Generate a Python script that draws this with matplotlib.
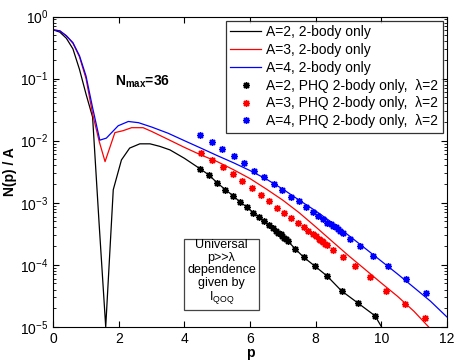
import numpy as np
import matplotlib
matplotlib.use("Agg")
import matplotlib.pyplot as plt
from matplotlib.ticker import LogLocator, NullFormatter

plt.rcParams['font.family'] = ['Liberation Sans', 'DejaVu Sans']
plt.rcParams['mathtext.fontset'] = 'custom'
plt.rcParams['mathtext.rm'] = 'Liberation Sans'
plt.rcParams['mathtext.bf'] = 'Liberation Sans:bold'

# full calculation, 2-body only
p_a2 = [0, 0.2, 0.4, 0.6, 0.8, 1.0, 1.2, 1.4, 1.6, 1.83, 2.08, 2.33, 2.64, 2.95, 3.25, 3.56, 4.0,
        4.47, 4.74, 5.0, 5.25, 5.49, 5.70, 5.91, 6.10, 6.27, 6.42, 6.57, 6.69, 6.79, 6.86, 6.93,
        6.99, 7.04, 7.09, 7.16, 7.37, 7.64, 7.98, 8.35, 8.79, 9.30, 9.81, 10.01, 10.2]
n_a2 = [0.61, 0.562, 0.447, 0.302, 0.141, 0.0562, 0.024, 4.5e-4, 1.0e-5, 1.62e-3, 4.9e-3, 7.6e-3,
        8.9e-3, 8.9e-3, 8.1e-3, 7.1e-3, 5.2e-3,
        3.55e-3, 2.82e-3, 2.09e-3, 1.62e-3, 1.29e-3, 1.02e-3, 8.5e-4, 6.9e-4, 5.9e-4, 5.0e-4,
        4.4e-4, 3.9e-4, 3.55e-4, 3.3e-4, 3.1e-4, 2.9e-4, 2.75e-4, 2.57e-4, 2.4e-4, 1.82e-4,
        1.32e-4, 9.5e-5, 6.6e-5, 3.8e-5, 2.4e-5, 1.51e-5, 1.0e-5, 4e-6]

p_a3 = [0, 0.2, 0.4, 0.6, 0.8, 1.0, 1.2, 1.4, 1.58, 1.88, 2.13, 2.39, 2.74, 3.0, 3.5, 4.0, 4.5,
        5.0, 5.5, 6.0, 6.5, 7.0, 7.5, 8.0, 8.5, 9.0, 9.5, 10.0, 10.5, 11.0, 11.5]
n_a3 = [0.61, 0.589, 0.49, 0.372, 0.224, 0.1, 0.027, 9.8e-3, 4.6e-3, 1.35e-2, 1.45e-2, 1.62e-2,
        1.62e-2, 1.41e-2, 1.05e-2, 7.8e-3, 5.9e-3, 4.6e-3, 3.4e-3, 2.45e-3, 1.66e-3, 1.1e-3,
        6.9e-4, 4.1e-4, 2.4e-4, 1.41e-4, 8.5e-5, 5.1e-5, 3.1e-5, 1.78e-5, 9.3e-6]

p_a4 = [0, 0.2, 0.4, 0.6, 0.8, 1.0, 1.2, 1.42, 1.62, 1.98, 2.29, 2.6, 3.0, 3.5, 4.0, 4.5, 5.0,
        5.5, 6.0, 6.5, 7.0, 7.5, 8.0, 8.5, 9.0, 9.5, 10.0, 10.5, 11.0, 11.5, 12.0]
n_a4 = [0.61, 0.589, 0.49, 0.38, 0.234, 0.11, 0.034, 0.0102, 0.011, 0.0174, 0.0204, 0.0195,
        0.0166, 0.0132, 0.01, 7.6e-3, 5.75e-3, 4.4e-3, 3.3e-3, 2.4e-3, 1.66e-3, 1.1e-3, 7.4e-4,
        4.8e-4, 3.0e-4, 1.86e-4, 1.15e-4, 7.1e-5, 4.3e-5, 2.6e-5, 1.45e-5]

# PHQ 2-body only, lambda = 2
ps_a2 = [4.47, 4.74, 5.0, 5.25, 5.49, 5.70, 5.91, 6.10, 6.27, 6.42, 6.57, 6.69, 6.79, 6.86, 6.93,
         6.99, 7.04, 7.09, 7.16, 7.37, 7.64, 7.98, 8.35, 8.79, 9.30, 9.81]
ns_a2 = [3.55e-3, 2.82e-3, 2.09e-3, 1.62e-3, 1.29e-3, 1.02e-3, 8.5e-4, 6.9e-4, 5.9e-4, 5.0e-4,
         4.4e-4, 3.9e-4, 3.55e-4, 3.3e-4, 3.1e-4, 2.9e-4, 2.75e-4, 2.57e-4, 2.4e-4, 1.82e-4,
         1.32e-4, 9.5e-5, 6.6e-5, 3.8e-5, 2.4e-5, 1.51e-5]

ps_a3 = [4.52, 4.85, 5.18, 5.49, 5.77, 6.06, 6.33, 6.58, 6.83, 7.05, 7.26, 7.47, 7.64, 7.78, 7.92,
         8.02, 8.09, 8.14, 8.19, 8.24, 8.29, 8.34, 8.53, 8.82, 9.2, 9.67, 10.16, 10.71, 11.33]
ns_a3 = [6.3e-3, 4.9e-3, 3.7e-3, 2.9e-3, 2.24e-3, 1.7e-3, 1.32e-3, 1.05e-3, 8.1e-4, 6.8e-4,
         5.6e-4, 4.8e-4, 4.1e-4, 3.55e-4, 3.16e-4, 2.9e-4, 2.63e-4, 2.5e-4, 2.4e-4, 2.3e-4,
         2.2e-4, 2.1e-4, 1.74e-4, 1.32e-4, 9.5e-5, 6.3e-5, 3.8e-5, 2.35e-5, 1.38e-5]

ps_a4 = [4.47, 4.83, 5.16, 5.51, 5.82, 6.13, 6.43, 6.72, 6.97, 7.25, 7.49, 7.71, 7.92, 8.08, 8.23,
         8.35, 8.46, 8.54, 8.61, 8.67, 8.73, 8.82, 9.05, 9.35, 9.76, 10.22, 10.77, 11.38]
ns_a4 = [1.24e-2, 9.6e-3, 7.3e-3, 5.7e-3, 4.3e-3, 3.3e-3, 2.57e-3, 2.04e-3, 1.6e-3, 1.26e-3,
         1.05e-3, 8.5e-4, 7.1e-4, 6.2e-4, 5.4e-4, 4.8e-4, 4.5e-4, 4.2e-4, 4.0e-4, 3.8e-4,
         3.55e-4, 3.2e-4, 2.63e-4, 2.0e-4, 1.41e-4, 9.5e-5, 5.9e-5, 3.5e-5]

fig = plt.figure(figsize=(4.55, 3.6), dpi=100)
ax = fig.add_axes([0.117, 0.092, 0.865, 0.862])

ax.semilogy(p_a2, n_a2, color='k', lw=0.9, label='A=2, 2-body only')
ax.semilogy(p_a3, n_a3, color='r', lw=0.9, label='A=3, 2-body only')
ax.semilogy(p_a4, n_a4, color='b', lw=0.9, label='A=4, 2-body only')

star = (8, 2, 0)
ax.semilogy(ps_a2, ns_a2, ls='none', marker=star, ms=5, mew=1, color='k',
            label='A=2, PHQ 2-body only,  λ=2')
ax.semilogy(ps_a3, ns_a3, ls='none', marker=star, ms=5, mew=1, color='r',
            label='A=3, PHQ 2-body only,  λ=2')
ax.semilogy(ps_a4, ns_a4, ls='none', marker=star, ms=5, mew=1, color='b',
            label='A=4, PHQ 2-body only,  λ=2')

ax.set_xlim(0, 12)
ax.set_ylim(1e-5, 1)
ax.set_xticks([0, 2, 4, 6, 8, 10, 12])
ax.yaxis.set_major_locator(LogLocator(base=10, numticks=10))
ax.yaxis.set_minor_locator(LogLocator(base=10, subs=np.arange(2, 10), numticks=10))
ax.yaxis.set_minor_formatter(NullFormatter())
ax.tick_params(which='both', direction='in', top=True, right=True, labelsize=10)
ax.tick_params(which='major', length=4)
ax.tick_params(which='minor', length=2)

ax.set_xlabel('p', fontweight='bold', fontsize=10, labelpad=0)
ax.set_ylabel('N(p) / A', fontweight='bold', fontsize=10, labelpad=2)

ax.text(1.88, 0.09, r'$\mathbf{N_{max}}$=36', fontweight='bold', fontsize=10,
        ha='left', va='center')

ax.text(5.13, 7.4e-5, 'Universal\np>>λ\ndependence\ngiven by\nI$_{\\rm QOQ}$',
        ha='center', va='center', multialignment='center', fontsize=9, linespacing=1.05,
        bbox=dict(boxstyle='square,pad=0.25', fc='white', ec='#444444', lw=0.9))

leg = ax.legend(loc='upper right', fontsize=10, frameon=True, fancybox=False,
                edgecolor='k', handlelength=2.2, labelspacing=0.28, borderpad=0.3,
                handletextpad=0.4, borderaxespad=0.3, numpoints=1)
leg.get_frame().set_linewidth(0.9)

fig.savefig('out.png', dpi=100)
